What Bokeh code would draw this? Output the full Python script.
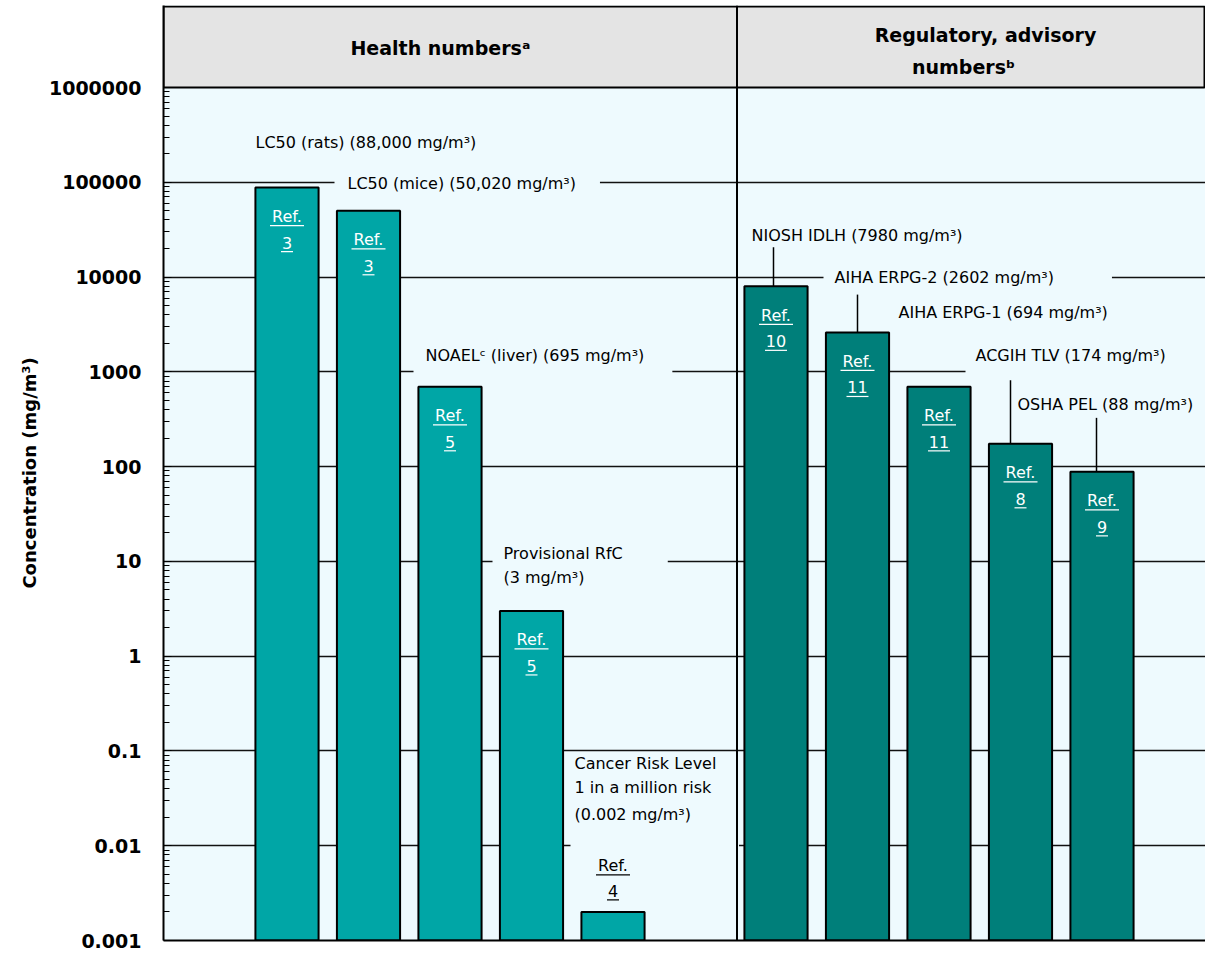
import math
from bokeh.plotting import figure
from bokeh.models import ColumnDataSource, FixedTicker, CustomJSTickFormatter, Label, Range1d
from bokeh.embed import file_html
from bokeh.resources import INLINE
from bokeh.core.properties import value

# ---------------- data ----------------
health_values = [88000, 50020, 695, 3, 0.002]
health_refs = ["3", "3", "5", "5", "4"]
health_labels = [
    "LC50 (rats) (88,000 mg/m³)",
    "LC50 (mice) (50,020 mg/m³)",
    "NOAELᶜ (liver) (695 mg/m³)",
    "Provisional RfC\n(3 mg/m³)",
    "Cancer Risk Level\n1 in a million risk\n(0.002 mg/m³)",
]
reg_values = [7980, 2602, 694, 174, 88]
reg_refs = ["10", "11", "11", "8", "9"]
reg_labels = [
    "NIOSH IDLH (7980 mg/m³)",
    "AIHA ERPG-2 (2602 mg/m³)",
    "AIHA ERPG-1 (694 mg/m³)",
    "ACGIH TLV (174 mg/m³)",
    "OSHA PEL (88 mg/m³)",
]
group_titles = ["Health numbersᵃ", "Regulatory, advisory", "numbersᵇ"]
y_ticks = [0.001, 0.01, 0.1, 1, 10, 100, 1000, 10000, 100000, 1000000]
y_title = "Concentration (mg/m³)"

# ---------------- layout ----------------
FONT = "DejaVu Sans"
BG = "#EEFAFE"
HEADER_BG = "#E4E4E4"
HEALTH_C = "#00A6A6"
REG_C = "#007F7A"
W, H = 1205, 950
LEFT = 163
TOP = 5
HEADER_PX = 82
PLOT_PX = 853
BOTTOM = H - TOP - HEADER_PX - PLOT_PX
SLOT = 81.5
X0 = 286.5
PPD = PLOT_PX / 9.0


def rx(px):
    return (px - X0) / SLOT


def ry(py):
    return 10 ** (6 - (py - 90) / 96.11)


def lift(v, dpx):
    return v * 10 ** (dpx / PPD)


x_start = rx(LEFT)
x_end = rx(W)
y_end = 10 ** (6 + HEADER_PX / PPD)

health_x = list(range(len(health_values)))
reg_x = [len(health_values) + 1 + i for i in range(len(reg_values))]
BAR_W = 0.775

p = figure(width=W, height=H, y_axis_type="log",
           x_range=Range1d(x_start, x_end), y_range=Range1d(0.001, y_end),
           output_backend="svg", toolbar_location=None,
           min_border_left=LEFT, min_border_right=0, min_border_top=TOP, min_border_bottom=BOTTOM)
p.background_fill_color = BG
p.border_fill_color = "white"
p.outline_line_color = None
p.xgrid.visible = False
p.ygrid.ticker = FixedTicker(ticks=y_ticks[:-1])
p.ygrid.grid_line_color = "#111111"
p.ygrid.grid_line_width = 1.6

minor = [m * 10.0 ** k for k in range(-3, 6) for m in range(2, 10)]
p.yaxis.ticker = FixedTicker(ticks=y_ticks, minor_ticks=minor)
p.yaxis.formatter = CustomJSTickFormatter(code="return Number(tick.toPrecision(6)).toString();")
p.yaxis.major_label_text_font = FONT
p.yaxis.major_label_text_font_style = "bold"
p.yaxis.major_label_text_font_size = "19px"
p.yaxis.major_label_text_color = "black"
p.yaxis.major_label_standoff = 22
p.yaxis.major_tick_in = 8
p.yaxis.major_tick_out = 0
p.yaxis.minor_tick_in = 6
p.yaxis.minor_tick_out = 0
p.yaxis.major_tick_line_color = "black"
p.yaxis.minor_tick_line_color = "black"
p.yaxis.axis_line_width = 2
p.yaxis.axis_line_color = "black"
p.yaxis.axis_label = y_title
p.yaxis.axis_label_text_font = FONT
p.yaxis.axis_label_text_font_style = "bold"
p.yaxis.axis_label_text_font_size = "18px"
p.yaxis.axis_label_text_color = "black"
p.yaxis.axis_label_standoff = 6

p.xaxis.ticker = FixedTicker(ticks=[])
p.xaxis.axis_line_width = 2
p.xaxis.axis_line_color = "black"
p.xaxis.major_tick_line_color = None
p.xaxis.minor_tick_line_color = None
p.xaxis.major_label_text_font_size = "0px"
p.xaxis.major_label_standoff = 0

# header band
p.quad(left=[x_start], right=[rx(1204)], bottom=[1e6], top=[lift(1e6, HEADER_PX - 1)],
       fill_color=HEADER_BG, line_color="black", line_width=2)

# bars
p.vbar(x=health_x, top=health_values, bottom=0.001, width=BAR_W,
       fill_color=HEALTH_C, line_color="black", line_width=2)
p.vbar(x=reg_x, top=reg_values, bottom=0.001, width=BAR_W,
       fill_color=REG_C, line_color="black", line_width=2)

# leader lines (regulatory)
leader = [(0, 773, 252), (1, 857, 300), (3, 1010, 379), (4, 1096, 425)]
p.segment(x0=[rx(a) for _, a, _ in leader], y0=[reg_values[i] for i, _, _ in leader],
          x1=[rx(a) for _, a, _ in leader], y1=[ry(b) for _, _, b in leader],
          line_color="black", line_width=1.5)

# Ref. labels
all_x = health_x + reg_x
all_v = health_values + reg_values
all_r = health_refs + reg_refs
tx, ty, tt, tc, to = [], [], [], [], []
ux0, ux1, uy, uc = [], [], [], []
for xv, v, r in zip(all_x, all_v, all_r):
    inside = v >= 0.01
    o1, o2 = (29, 55) if inside else (-46, -21)
    col = "white" if inside else "black"
    for txt, off, hw in (("Ref.", o1, 17), (r, o2, 5 * len(r) + 1)):
        tx.append(xv); ty.append(v); tt.append(txt); tc.append(col); to.append(off)
        ux0.append(xv - hw / SLOT); ux1.append(xv + hw / SLOT)
        uy.append(lift(v, -(off + 9))); uc.append(col)

src = ColumnDataSource(dict(x=tx, y=ty, text=tt, color=tc, yoff=to))
p.text(x="x", y="y", text="text", text_color="color", y_offset="yoff", source=src,
       text_font=value(FONT), text_font_size="16px", text_align="center", text_baseline="middle")
p.segment(x0=ux0, y0=uy, x1=ux1, y1=uy, line_color=uc, line_width=1.2)


def add_label(text, xref, yref, pad=None, bold=False, size="16px", align="left"):
    kw = {}
    if pad is not None:
        kw = dict(background_fill_color=BG, padding=pad)
        # the anchor applies to the padded box: shift it so the text stays in place
        xref = xref - pad["left"]
        yref = yref + (pad["bottom"] - pad["top"]) / 2.0
    p.add_layout(Label(x=rx(xref), y=ry(yref), text=text, text_font=FONT, text_font_size=size,
                       text_align=align, text_baseline="middle",
                       text_font_style="bold" if bold else "normal", text_color="black", **kw))


# annotation labels: (text, left x, [line centres], {line index: padding})
ann = [
    (health_labels[0], 255, [146], {}),
    (health_labels[1], 347, [187], {0: dict(left=13, right=24, top=3, bottom=3)}),
    (health_labels[2], 425, [362], {0: dict(left=12, right=28, top=3, bottom=15)}),
    (health_labels[3], 503, [563, 587], {0: dict(left=11, right=45, top=3, bottom=5)}),
    (health_labels[4], 574, [775, 800, 827], {2: dict(left=4, right=48, top=0, bottom=30)}),
    (reg_labels[0], 751, [240], {}),
    (reg_labels[1], 834, [283], {0: dict(left=11, right=58, top=3, bottom=3)}),
    (reg_labels[2], 898, [318], {}),
    (reg_labels[3], 975, [362], {0: dict(left=10, right=80, top=3, bottom=15)}),
    (reg_labels[4], 1017, [411], {}),
]
# padded (line-masking) labels first, then the plain ones on top
padded, plain = [], []
for text, lx, ys, pads in ann:
    for i, (line, yy) in enumerate(zip(text.split("\n"), ys)):
        (padded if i in pads else plain).append((line, lx, yy, pads.get(i)))
for line, lx, yy, pad in padded + plain:
    add_label(line, lx, yy, pad)

# divider between groups (drawn above the masking boxes)
xd = rx(736.5)
p.add_layout(Label(x=xd, y=0.001, text="", level="overlay"))  # no-op anchor placeholder removed below
p.center = [r for r in p.center if not (isinstance(r, Label) and r.text == "")]
from bokeh.models import Span
p.add_layout(Span(location=xd, dimension="height", line_color="black", line_width=2, level="annotation"))

# header titles
add_label(group_titles[0], 440, 50, bold=True, size="19px", align="center")
add_label(group_titles[1], 985, 37, bold=True, size="19px", align="center")
add_label(group_titles[2], 963, 69, bold=True, size="19px", align="center")

open("out.html", "w").write(file_html(p, INLINE))
